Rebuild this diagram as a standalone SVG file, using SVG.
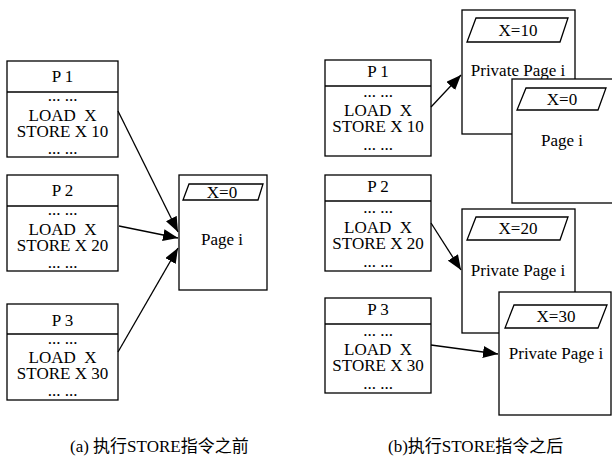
<svg xmlns="http://www.w3.org/2000/svg" width="612" height="460" viewBox="0 0 612 460">
<defs>
<style>
.box{fill:#fff;stroke:#000;stroke-width:1.3}
.ln{stroke:#000;stroke-width:1.3;fill:none}
.t{font-family:"Liberation Serif","Times New Roman",serif;font-size:17px;fill:#000;text-anchor:middle;white-space:pre}
.cap{font-family:"Liberation Serif","Noto Sans CJK SC",serif;font-size:17px;fill:#000;white-space:pre}
.arr{stroke:#000;stroke-width:1.3;fill:none;marker-end:url(#ah)}
</style>
<marker id="ah" markerUnits="userSpaceOnUse" markerWidth="16" markerHeight="12" refX="15" refY="6" orient="auto">
<path d="M0,0 L15,6 L0,12 Z" fill="#000"/>
</marker>
</defs>

<!-- Left side -->
<g id="L-P1">
<rect class="box" x="7" y="61" width="111" height="96"/>
<line class="ln" x1="7" y1="92" x2="118" y2="92"/>
<text class="t" x="62.5" y="82">P 1</text>
<text class="t" x="62.5" y="101">... ...</text>
<text class="t" x="62.5" y="121">LOAD  X</text>
<text class="t" x="62.5" y="137">STORE X 10</text>
<text class="t" x="62.5" y="154">... ...</text>
</g>
<g id="L-P2">
<rect class="box" x="7" y="175" width="111" height="96"/>
<line class="ln" x1="7" y1="206" x2="118" y2="206"/>
<text class="t" x="62.5" y="196">P 2</text>
<text class="t" x="62.5" y="215">... ...</text>
<text class="t" x="62.5" y="235">LOAD  X</text>
<text class="t" x="62.5" y="251">STORE X 20</text>
<text class="t" x="62.5" y="268">... ...</text>
</g>
<g id="L-P3">
<rect class="box" x="7" y="304" width="111" height="96"/>
<line class="ln" x1="7" y1="334" x2="118" y2="334"/>
<text class="t" x="62.5" y="326">P 3</text>
<text class="t" x="62.5" y="344">... ...</text>
<text class="t" x="62.5" y="363">LOAD  X</text>
<text class="t" x="62.5" y="379">STORE X 30</text>
<text class="t" x="62.5" y="396">... ...</text>
</g>
<g id="L-Page">
<rect class="box" x="179" y="175" width="88" height="115"/>
<polygon class="box" points="189,184 263,184 258,200 183,200"/>
<text class="t" x="222" y="198">X=0</text>
<text class="t" x="222" y="245">Page i</text>
</g>

<!-- Right side -->
<g id="R-P1">
<rect class="box" x="325" y="60" width="106" height="96"/>
<line class="ln" x1="325" y1="86" x2="431" y2="86"/>
<text class="t" x="378" y="77">P 1</text>
<text class="t" x="378" y="97">... ...</text>
<text class="t" x="378" y="116">LOAD  X</text>
<text class="t" x="378" y="132">STORE X 10</text>
<text class="t" x="378" y="150">... ...</text>
</g>
<g id="R-P2">
<rect class="box" x="325" y="175" width="106" height="96"/>
<line class="ln" x1="325" y1="201" x2="431" y2="201"/>
<text class="t" x="378" y="192">P 2</text>
<text class="t" x="378" y="213">... ...</text>
<text class="t" x="378" y="233">LOAD  X</text>
<text class="t" x="378" y="249">STORE X 20</text>
<text class="t" x="378" y="267">... ...</text>
</g>
<g id="R-P3">
<rect class="box" x="325" y="298" width="106" height="95"/>
<line class="ln" x1="325" y1="324" x2="431" y2="324"/>
<text class="t" x="378" y="315">P 3</text>
<text class="t" x="378" y="336">... ...</text>
<text class="t" x="378" y="355">LOAD  X</text>
<text class="t" x="378" y="371">STORE X 30</text>
<text class="t" x="378" y="389">... ...</text>
</g>
<g id="R-Priv1">
<rect class="box" x="462" y="10" width="113" height="124"/>
<polygon class="box" points="476,18 568,18 560,42 467,42"/>
<text class="t" x="518" y="36">X=10</text>
<text class="t" x="518" y="76">Private Page i</text>
</g>
<g id="R-Page">
<rect class="box" x="512" y="79" width="113" height="124"/>
<polygon class="box" points="526,88 606,88 598,110 517,110"/>
<text class="t" x="562" y="105">X=0</text>
<text class="t" x="562" y="146">Page i</text>
</g>
<g id="R-Priv2">
<rect class="box" x="462" y="209" width="113" height="124"/>
<polygon class="box" points="476,217 568,217 560,240 467,240"/>
<text class="t" x="518" y="234">X=20</text>
<text class="t" x="518" y="276">Private Page i</text>
</g>
<g id="R-Priv3">
<rect class="box" x="499" y="292" width="112" height="123"/>
<polygon class="box" points="514,305 607,305 598,328 505,328"/>
<text class="t" x="556" y="322">X=30</text>
<text class="t" x="556" y="359">Private Page i</text>
</g>

<g id="connectors">
<line class="arr" x1="118" y1="111" x2="178" y2="232"/>
<line class="arr" x1="119" y1="226" x2="178" y2="238"/>
<line class="arr" x1="118" y1="352" x2="178" y2="248"/>
<line class="arr" x1="431" y1="107" x2="461" y2="75"/>
<line class="arr" x1="431" y1="223" x2="461" y2="270"/>
<line class="arr" x1="431" y1="345" x2="498" y2="354"/>
</g>

<g id="captions">
<text class="cap" x="70" y="452">(a) 执行STORE指令之前</text>
<text class="cap" x="388" y="452">(b)执行STORE指令之后</text>
</g>
</svg>
